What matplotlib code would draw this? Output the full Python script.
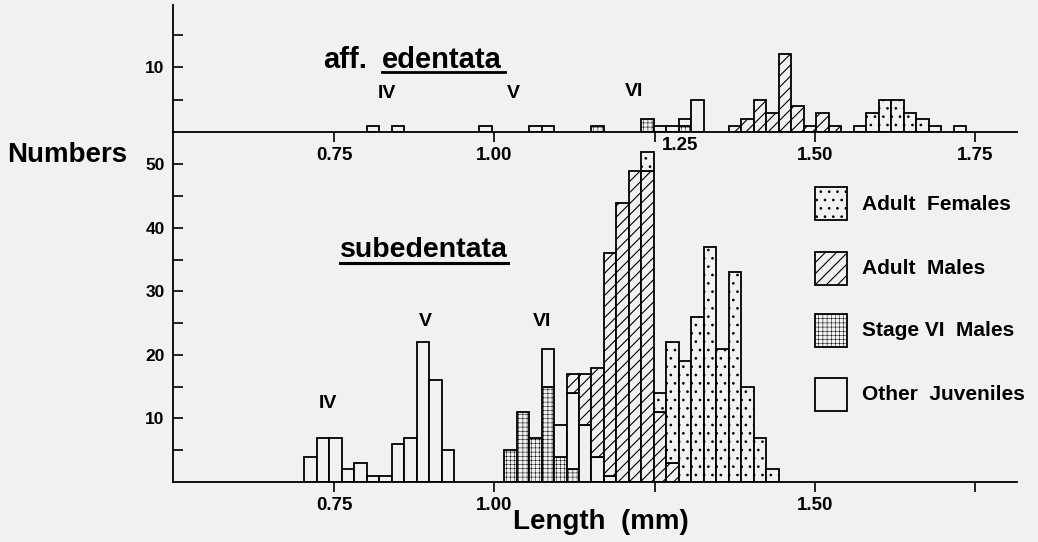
import matplotlib.pyplot as plt
import numpy as np
from matplotlib.patches import Rectangle
from matplotlib.lines import Line2D
from matplotlib.ticker import FixedLocator

plt.rcParams['font.family'] = ['Liberation Sans', 'DejaVu Sans']
plt.rcParams['font.weight'] = 'bold'

BG = '#f1f1f1'
W, H = 1038, 542

# length classes (mm): left edge of class 0 and class width
first_edge = 0.703
class_width = 0.0195
n_classes = 54

# aff. edentata (upper panel): class index -> count
ede_juv_cls = [5, 7, 14, 18, 19, 28, 29, 30, 31]
ede_juv_n = [1, 1, 1, 1, 1, 1, 1, 1, 5]
ede_vi_cls = [23, 27, 30]
ede_vi_n = [1, 2, 1]
ede_male_cls = [34, 35, 36, 37, 38, 39, 40, 41, 42]
ede_male_n = [1, 2, 5, 3, 12, 4, 1, 3, 1]
ede_fem_cls = [44, 45, 46, 47, 48, 49, 50, 52]
ede_fem_n = [1, 3, 5, 5, 3, 2, 1, 1]

# subedentata (lower panel)
sub_juv_cls = [0, 1, 2, 3, 4, 5, 6, 7, 8, 9, 10, 11, 19, 20, 21, 22, 23, 24]
sub_juv_n = [4, 7, 7, 2, 3, 1, 1, 6, 7, 22, 16, 5, 6, 5, 12, 9, 4, 1]
sub_vi_cls = [16, 17, 18, 19, 20, 21]
sub_vi_n = [5, 11, 7, 15, 4, 2]
sub_male_cls = [21, 22, 23, 24, 25, 26, 27, 28, 29]
sub_male_n = [3, 8, 14, 35, 44, 49, 49, 11, 3]
sub_fem_cls = [27, 28, 29, 30, 31, 32, 33, 34, 35, 36, 37]
sub_fem_n = [3, 3, 19, 19, 26, 37, 21, 33, 15, 7, 2]

x_ticks = [0.75, 1.00, 1.25, 1.50, 1.75]
top_xlabels = ['0.75', '1.00', '', '1.50', '1.75']   # 1.25 is drawn offset to the right
bot_xlabels = ['0.75', '1.00', '', '1.50', '']

# hatch pattern and hatch line width per category
HATCH = {'vi': ('++++', 0.35), 'juv': ('', 0.7), 'male': ('///', 0.8), 'fem': ('..', 0.7)}
edges = first_edge + class_width * np.arange(n_classes)


def counts(cls, n):
    c = np.zeros(n_classes)
    np.add.at(c, cls, n)
    return c


def draw_hist(ax, groups):
    base = np.zeros(n_classes)
    for c, key in groups:
        hatch, hlw = HATCH[key]
        idx = np.nonzero(c)[0]
        with plt.rc_context({'hatch.linewidth': hlw}):
            ax.bar(edges[idx], c[idx], width=class_width, bottom=base[idx], align='edge',
                   facecolor=BG, edgecolor='black', hatch=hatch, linewidth=1.3, zorder=2)
        base += c


def fx(px):
    return px / W


def fy(py):
    return 1 - py / H


fig = plt.figure(figsize=(W / 100, H / 100), dpi=100, facecolor=BG)
ax_top = fig.add_axes([fx(173), fy(132), (1017 - 173) / W, (132 - 5) / H])
ax_bot = fig.add_axes([fx(173), fy(482), (1017 - 173) / W, (482 - 132) / H])

draw_hist(ax_top, [(counts(ede_vi_cls, ede_vi_n), 'vi'),
                   (counts(ede_juv_cls, ede_juv_n), 'juv'),
                   (counts(ede_male_cls, ede_male_n), 'male'),
                   (counts(ede_fem_cls, ede_fem_n), 'fem')])
draw_hist(ax_bot, [(counts(sub_vi_cls, sub_vi_n), 'vi'),
                   (counts(sub_juv_cls, sub_juv_n), 'juv'),
                   (counts(sub_male_cls, sub_male_n), 'male'),
                   (counts(sub_fem_cls, sub_fem_n), 'fem')])

for ax, ymax, yt, ym, xl in ((ax_top, 19.6, [10], [5, 15], top_xlabels),
                             (ax_bot, 55.1, [10, 20, 30, 40, 50], [5, 15, 25, 35, 45], bot_xlabels)):
    ax.patch.set_visible(False)
    ax.set_xlim(0.498, 1.816)
    ax.set_ylim(0, ymax)
    for s in ('top', 'right'):
        ax.spines[s].set_visible(False)
    for s in ('left', 'bottom'):
        ax.spines[s].set_linewidth(1.3)
    ax.set_xticks(x_ticks, xl, fontsize=13.5, fontweight='bold')
    ax.set_yticks(yt, [str(v) for v in yt], fontsize=12.5, fontweight='bold')
    ax.yaxis.set_minor_locator(FixedLocator(ym))
    ax.tick_params(axis='y', which='both', direction='in', length=7, width=1.2, pad=6)
    ax.tick_params(axis='x', direction='out', length=7, width=1.2, pad=4)

ax_top.annotate('1.25', xy=(1.25, 0), xycoords=('data', 'axes fraction'), xytext=(5, -3.5),
                textcoords='offset points', ha='left', va='top', fontsize=13.5)

# titles, stage labels
fig.text(fx(323), fy(68), 'aff.', fontsize=21, va='baseline')
fig.text(fx(382), fy(68), 'edentata', fontsize=21, va='baseline')
fig.add_artist(Line2D([fx(382), fx(505)], [fy(72), fy(72)], color='black', lw=2))
fig.text(fx(340), fy(257), 'subedentata', fontsize=20.5, va='baseline')
fig.add_artist(Line2D([fx(340), fx(508)], [fy(263), fy(263)], color='black', lw=2.2))

for label, x, y in (('IV', 387, 94), ('V', 513, 94), ('VI', 634, 91),
                    ('IV', 328, 403), ('V', 425, 321), ('VI', 542, 322)):
    fig.text(fx(x), fy(y), label, fontsize=14, ha='center', va='center')

fig.text(fx(67), fy(155), 'Numbers', fontsize=20, ha='center', va='center')
fig.text(fx(513), fy(522), 'Length  (mm)', fontsize=20, ha='left', va='center')

# legend
legend_items = [('Adult  Females', 'fem', 187), ('Adult  Males', 'male', 252),
                ('Stage VI  Males', 'vi', 314), ('Other  Juveniles', 'juv', 378)]
for text, key, ytop in legend_items:
    hatch, hlw = HATCH[key]
    with plt.rc_context({'hatch.linewidth': hlw}):
        fig.add_artist(Rectangle((fx(815), fy(ytop + 33)), 32 / W, 33 / H, transform=fig.transFigure,
                                 facecolor=BG, edgecolor='black', hatch=hatch, linewidth=1.3))
    fig.text(fx(862), fy(ytop + 17), text, fontsize=15, ha='left', va='center')

fig.savefig('out.png', dpi=100, facecolor=BG)
